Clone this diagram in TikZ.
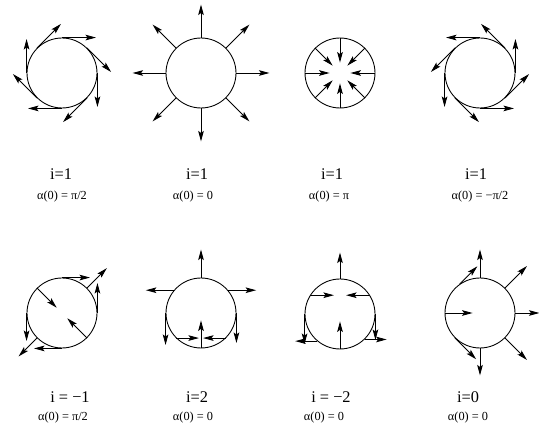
\documentclass[tikz,border=0pt]{standalone}
\usepackage{fontspec}
\setmainfont{Liberation Serif}
\usetikzlibrary{arrows.meta}

\begin{document}
\begin{tikzpicture}[x=0.02cm,y=0.02cm,>={Stealth[length=6pt,width=3.2pt,inset=1.2pt]},
  ring/.style={circle,draw,line width=0.5pt,minimum size=1.4cm,inner sep=0pt},
  vec/.style={->,line width=0.5pt},
  idx/.style={font=\fontsize{9.3}{11}\selectfont},
  ang/.style={font=\fontsize{7}{8.5}\selectfont}]

\useasboundingbox (0,0) rectangle (539,433);

%---------------------------------
% FILA SUPERIOR: ÍNDICE 1
%---------------------------------
\node[ring] (c1) at (62,360) {};
\node[ring] (c2) at (201,360) {};
\node[ring] (c3) at (340,360) {};
\node[ring] (c4) at (480,360) {};

% campo tangente, giro horario
\foreach \t in {0,45,...,315}
  \draw[vec] (c1.\t) -- ++(\t-90:34);

% campo radial hacia fuera
\foreach \t in {0,45,...,315}
  \draw[vec] (c2.\t) -- ++(\t:33);

% campo radial hacia dentro
\foreach \t in {0,45,...,315}
  \draw[vec] (c3.\t) -- ++(\t+180:25);

% campo tangente, giro antihorario
\foreach \t in {0,45,...,315}
  \draw[vec] (c4.\t) -- ++(\t+90:34);

% etiquetas superiores
\node[idx] (i1) at (61,259) {i=1};
\node[idx] (i2) at (197,259) {i=1};
\node[idx] (i3) at (332,259) {i=1};
\node[idx] (i4) at (476,259) {i=1};
\node[ang] (a1) at (62,236) {α(0) = π/2};
\node[ang] (a2) at (193,236) {α(0) = 0};
\node[ang] (a3) at (329,236) {α(0) = π};
\node[ang] (a4) at (480,236) {α(0) = −π/2};

%---------------------------------
% FILA INFERIOR: OTROS ÍNDICES
%---------------------------------
\node[ring] (c5) at (62,120) {};
\node[ring] (c6) at (201,120) {};
\node[ring] (c7) at (340,119) {};
\node[ring] (c8) at (480,120) {};

% índice -1 (punto / dirección / largo)
\foreach \t/\d/\l in {90/0/28,45/45/28,0/90/30,315/135/28,
                      270/180/28,225/225/26,180/270/28,135/315/28}
  \draw[vec] (c5.\t) -- ++(\d:\l);

% índice 2
\foreach \t/\d/\l in {90/90/28,40/0/28,0/270/30,315/180/23,
                      270/90/28,225/0/23,180/270/32,140/180/28}
  \draw[vec] (c6.\t) -- ++(\d:\l);

% índice -2
\foreach \t/\d/\l in {90/90/26,32/180/24,0/270/26,314/0/22,
                      270/90/28,230/180/22,180/270/30,148/0/24}
  \draw[vec] (c7.\t) -- ++(\d:\l);

% índice 0
\foreach \t/\d/\l in {90/90/28,45/45/31,0/0/24,315/315/31,
                      270/270/27,225/315/30,180/0/28,125/45/25}
  \draw[vec] (c8.\t) -- ++(\d:\l);

% etiquetas inferiores
\node[idx] (i5) at (70,36) {i = −1};
\node[idx] (i6) at (197,36) {i=2};
\node[idx] (i7) at (331,36) {i = −2};
\node[idx] (i8) at (468,36) {i=0};
\node[ang] (a5) at (63,15) {α(0) = π/2};
\node[ang] (a6) at (193,15) {α(0) = 0};
\node[ang] (a7) at (324,15) {α(0) = 0};
\node[ang] (a8) at (468,15) {α(0) = 0};

\end{tikzpicture}
\end{document}
